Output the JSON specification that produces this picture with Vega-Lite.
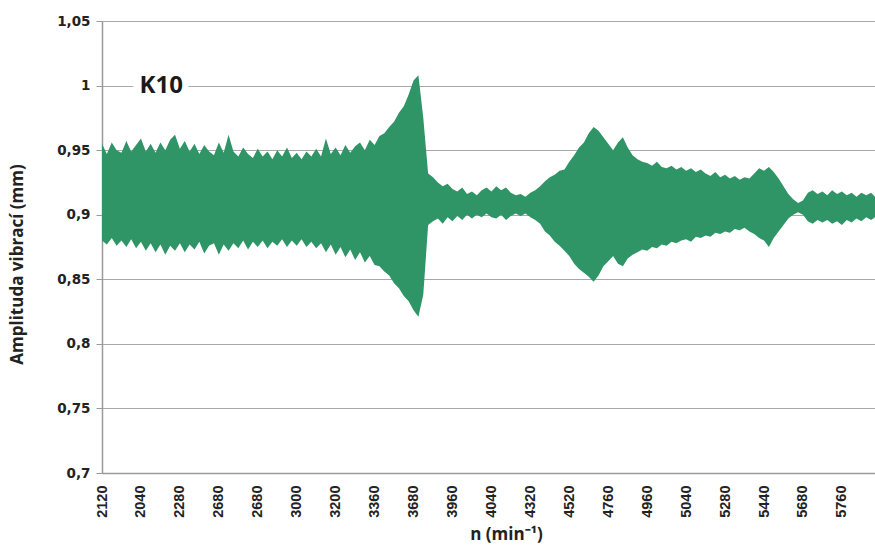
{
  "$schema": "https://vega.github.io/schema/vega-lite/v6.json",
  "width": 773,
  "height": 452,
  "autosize": "none",
  "padding": {"left": 102, "top": 21, "right": 0, "bottom": 75},
  "background": "white",
  "config": {"view": {"stroke": null}},
  "datasets": {
    "sig": [
      {"t":0.000,"hi":0.955,"lo":0.880},{"t":0.125,"hi":0.947,"lo":0.877},{"t":0.250,"hi":0.956,"lo":0.882},{"t":0.375,"hi":0.950,"lo":0.876},
      {"t":0.500,"hi":0.948,"lo":0.880},{"t":0.625,"hi":0.957,"lo":0.875},{"t":0.750,"hi":0.949,"lo":0.881},{"t":0.875,"hi":0.954,"lo":0.874},
      {"t":1.000,"hi":0.959,"lo":0.879},{"t":1.125,"hi":0.949,"lo":0.872},{"t":1.250,"hi":0.955,"lo":0.878},{"t":1.375,"hi":0.948,"lo":0.871},
      {"t":1.500,"hi":0.956,"lo":0.877},{"t":1.625,"hi":0.950,"lo":0.869},{"t":1.750,"hi":0.958,"lo":0.876},{"t":1.875,"hi":0.962,"lo":0.872},
      {"t":2.000,"hi":0.951,"lo":0.878},{"t":2.125,"hi":0.957,"lo":0.871},{"t":2.250,"hi":0.949,"lo":0.877},{"t":2.375,"hi":0.955,"lo":0.873},
      {"t":2.500,"hi":0.947,"lo":0.879},{"t":2.625,"hi":0.954,"lo":0.870},{"t":2.750,"hi":0.949,"lo":0.876},{"t":2.875,"hi":0.946,"lo":0.878},
      {"t":3.000,"hi":0.956,"lo":0.869},{"t":3.125,"hi":0.948,"lo":0.877},{"t":3.250,"hi":0.962,"lo":0.872},{"t":3.375,"hi":0.949,"lo":0.878},
      {"t":3.500,"hi":0.945,"lo":0.874},{"t":3.625,"hi":0.952,"lo":0.880},{"t":3.750,"hi":0.947,"lo":0.873},{"t":3.875,"hi":0.944,"lo":0.879},
      {"t":4.000,"hi":0.951,"lo":0.875},{"t":4.125,"hi":0.945,"lo":0.880},{"t":4.250,"hi":0.949,"lo":0.874},{"t":4.375,"hi":0.943,"lo":0.879},
      {"t":4.500,"hi":0.950,"lo":0.876},{"t":4.625,"hi":0.945,"lo":0.881},{"t":4.750,"hi":0.952,"lo":0.875},{"t":4.875,"hi":0.944,"lo":0.880},
      {"t":5.000,"hi":0.948,"lo":0.876},{"t":5.125,"hi":0.943,"lo":0.881},{"t":5.250,"hi":0.949,"lo":0.875},{"t":5.375,"hi":0.945,"lo":0.879},
      {"t":5.500,"hi":0.951,"lo":0.874},{"t":5.625,"hi":0.945,"lo":0.878},{"t":5.750,"hi":0.959,"lo":0.871},{"t":5.875,"hi":0.947,"lo":0.877},
      {"t":6.000,"hi":0.952,"lo":0.869},{"t":6.125,"hi":0.946,"lo":0.875},{"t":6.250,"hi":0.954,"lo":0.867},{"t":6.375,"hi":0.948,"lo":0.873},
      {"t":6.500,"hi":0.953,"lo":0.865},{"t":6.625,"hi":0.956,"lo":0.871},{"t":6.750,"hi":0.950,"lo":0.863},{"t":6.875,"hi":0.958,"lo":0.868},
      {"t":7.000,"hi":0.954,"lo":0.861},{"t":7.125,"hi":0.961,"lo":0.860},{"t":7.250,"hi":0.963,"lo":0.856},{"t":7.375,"hi":0.968,"lo":0.853},
      {"t":7.500,"hi":0.972,"lo":0.847},{"t":7.625,"hi":0.979,"lo":0.843},{"t":7.750,"hi":0.984,"lo":0.837},{"t":7.875,"hi":0.993,"lo":0.833},
      {"t":8.000,"hi":1.004,"lo":0.826},{"t":8.125,"hi":1.008,"lo":0.821},{"t":8.250,"hi":0.975,"lo":0.838},{"t":8.375,"hi":0.932,"lo":0.892},
      {"t":8.500,"hi":0.929,"lo":0.895},{"t":8.625,"hi":0.925,"lo":0.897},{"t":8.750,"hi":0.922,"lo":0.893},{"t":8.875,"hi":0.924,"lo":0.898},
      {"t":9.000,"hi":0.920,"lo":0.895},{"t":9.125,"hi":0.918,"lo":0.899},{"t":9.250,"hi":0.921,"lo":0.896},{"t":9.375,"hi":0.916,"lo":0.900},
      {"t":9.500,"hi":0.918,"lo":0.897},{"t":9.625,"hi":0.915,"lo":0.900},{"t":9.750,"hi":0.919,"lo":0.898},{"t":9.875,"hi":0.921,"lo":0.901},
      {"t":10.000,"hi":0.918,"lo":0.898},{"t":10.125,"hi":0.922,"lo":0.897},{"t":10.250,"hi":0.919,"lo":0.900},{"t":10.375,"hi":0.921,"lo":0.896},
      {"t":10.500,"hi":0.917,"lo":0.899},{"t":10.625,"hi":0.915,"lo":0.901},{"t":10.750,"hi":0.916,"lo":0.899},{"t":10.875,"hi":0.914,"lo":0.901},
      {"t":11.000,"hi":0.917,"lo":0.898},{"t":11.125,"hi":0.919,"lo":0.896},{"t":11.250,"hi":0.922,"lo":0.893},{"t":11.375,"hi":0.926,"lo":0.887},
      {"t":11.500,"hi":0.929,"lo":0.884},{"t":11.625,"hi":0.931,"lo":0.879},{"t":11.750,"hi":0.934,"lo":0.876},{"t":11.875,"hi":0.935,"lo":0.872},
      {"t":12.000,"hi":0.941,"lo":0.868},{"t":12.125,"hi":0.946,"lo":0.862},{"t":12.250,"hi":0.952,"lo":0.858},{"t":12.375,"hi":0.956,"lo":0.855},
      {"t":12.500,"hi":0.963,"lo":0.852},{"t":12.625,"hi":0.968,"lo":0.848},{"t":12.750,"hi":0.965,"lo":0.853},{"t":12.875,"hi":0.960,"lo":0.860},
      {"t":13.000,"hi":0.955,"lo":0.864},{"t":13.125,"hi":0.950,"lo":0.868},{"t":13.250,"hi":0.956,"lo":0.862},{"t":13.375,"hi":0.960,"lo":0.860},
      {"t":13.500,"hi":0.952,"lo":0.866},{"t":13.625,"hi":0.946,"lo":0.869},{"t":13.750,"hi":0.943,"lo":0.871},{"t":13.875,"hi":0.941,"lo":0.873},
      {"t":14.000,"hi":0.940,"lo":0.872},{"t":14.125,"hi":0.938,"lo":0.875},{"t":14.250,"hi":0.941,"lo":0.874},{"t":14.375,"hi":0.937,"lo":0.877},
      {"t":14.500,"hi":0.936,"lo":0.876},{"t":14.625,"hi":0.938,"lo":0.879},{"t":14.750,"hi":0.935,"lo":0.878},{"t":14.875,"hi":0.937,"lo":0.880},
      {"t":15.000,"hi":0.934,"lo":0.881},{"t":15.125,"hi":0.936,"lo":0.879},{"t":15.250,"hi":0.933,"lo":0.883},{"t":15.375,"hi":0.935,"lo":0.882},
      {"t":15.500,"hi":0.932,"lo":0.884},{"t":15.625,"hi":0.930,"lo":0.883},{"t":15.750,"hi":0.933,"lo":0.886},{"t":15.875,"hi":0.929,"lo":0.885},
      {"t":16.000,"hi":0.931,"lo":0.887},{"t":16.125,"hi":0.928,"lo":0.886},{"t":16.250,"hi":0.930,"lo":0.889},{"t":16.375,"hi":0.927,"lo":0.888},
      {"t":16.500,"hi":0.929,"lo":0.890},{"t":16.625,"hi":0.928,"lo":0.887},{"t":16.750,"hi":0.932,"lo":0.885},{"t":16.875,"hi":0.936,"lo":0.882},
      {"t":17.000,"hi":0.934,"lo":0.880},{"t":17.125,"hi":0.937,"lo":0.875},{"t":17.250,"hi":0.933,"lo":0.882},{"t":17.375,"hi":0.928,"lo":0.887},
      {"t":17.500,"hi":0.922,"lo":0.892},{"t":17.625,"hi":0.916,"lo":0.897},{"t":17.750,"hi":0.912,"lo":0.900},{"t":17.875,"hi":0.909,"lo":0.902},
      {"t":18.000,"hi":0.911,"lo":0.900},{"t":18.125,"hi":0.917,"lo":0.895},{"t":18.250,"hi":0.919,"lo":0.893},{"t":18.375,"hi":0.916,"lo":0.896},
      {"t":18.500,"hi":0.918,"lo":0.894},{"t":18.625,"hi":0.915,"lo":0.896},{"t":18.750,"hi":0.919,"lo":0.893},{"t":18.875,"hi":0.916,"lo":0.895},
      {"t":19.000,"hi":0.918,"lo":0.892},{"t":19.125,"hi":0.915,"lo":0.896},{"t":19.250,"hi":0.917,"lo":0.894},{"t":19.375,"hi":0.914,"lo":0.897},
      {"t":19.500,"hi":0.917,"lo":0.895},{"t":19.625,"hi":0.915,"lo":0.898},{"t":19.750,"hi":0.917,"lo":0.896},{"t":19.850,"hi":0.914,"lo":0.898}
    ],
    "note": [
      {"t": 0.80, "t2": 2.22, "y": 0.9935, "y2": 1.0065, "label": "K10", "tc": 1.52}
    ]
  },
  "layer": [
    {
      "data": {"name": "sig"},
      "mark": {"type": "area", "color": "#2f9566", "opacity": 1, "interpolate": "linear"},
      "encoding": {
        "x": {
          "field": "t", "type": "quantitative",
          "scale": {"domain": [0, 19.85], "nice": false, "zero": false},
          "axis": {
            "title": "n (min⁻¹)",
            "values": [0,1,2,3,4,5,6,7,8,9,10,11,12,13,14,15,16,17,18,19],
            "labelExpr": "['2120','2040','2280','2680','2680','3000','3200','3360','3680','3960','4040','4320','4520','4760','4960','5040','5280','5440','5680','5760'][datum.value]",
            "labelAngle": -90,
            "labelFont": "Liberation Sans",
            "labelFontWeight": "bold",
            "labelFontSize": 14.5,
            "labelColor": "#222222",
            "labelPadding": 12,
            "labelOverlap": false,
            "labelFlush": false,
            "ticks": false,
            "grid": false,
            "domainColor": "#9a9a9a",
            "domainWidth": 1.5,
            "titleFont": "Open Sans",
            "titleFontWeight": "bold",
            "titleFontSize": 17,
            "titleColor": "#222222",
            "titlePadding": 9,
            "titleX": 404
          }
        },
        "y": {
          "field": "hi", "type": "quantitative",
          "scale": {"domain": [0.7, 1.05], "nice": false, "zero": false},
          "axis": {
            "title": "Amplituda vibrací (mm)",
            "values": [0.7, 0.75, 0.8, 0.85, 0.9, 0.95, 1.0, 1.05],
            "labelExpr": "replace(format(datum.value, '.2~f'), '.', ',')",
            "labelFont": "DejaVu Sans",
            "labelFontWeight": "bold",
            "labelFontSize": 13.5,
            "labelColor": "#222222",
            "labelPadding": 6,
            "tickColor": "#9a9a9a",
            "tickSize": 6,
            "grid": true,
            "gridColor": "#a8a8a8",
            "gridWidth": 1.2,
            "domainColor": "#9a9a9a",
            "domainWidth": 1.5,
            "titleFont": "Open Sans",
            "titleFontWeight": "bold",
            "titleFontSize": 17,
            "titleColor": "#222222",
            "titlePadding": 30,
            "titleY": 243
          }
        },
        "y2": {"field": "lo"}
      }
    },
    {
      "data": {"name": "note"},
      "mark": {"type": "rect", "color": "white"},
      "encoding": {
        "x": {"field": "t", "type": "quantitative"},
        "x2": {"field": "t2"},
        "y": {"field": "y", "type": "quantitative"},
        "y2": {"field": "y2"}
      }
    },
    {
      "data": {"name": "note"},
      "mark": {"type": "text", "font": "Open Sans", "fontWeight": "bold", "fontSize": 24, "color": "#1a1a1a", "align": "center", "baseline": "middle"},
      "encoding": {
        "x": {"field": "tc", "type": "quantitative"},
        "y": {"datum": 1.0, "type": "quantitative"},
        "text": {"field": "label"}
      }
    }
  ]
}
